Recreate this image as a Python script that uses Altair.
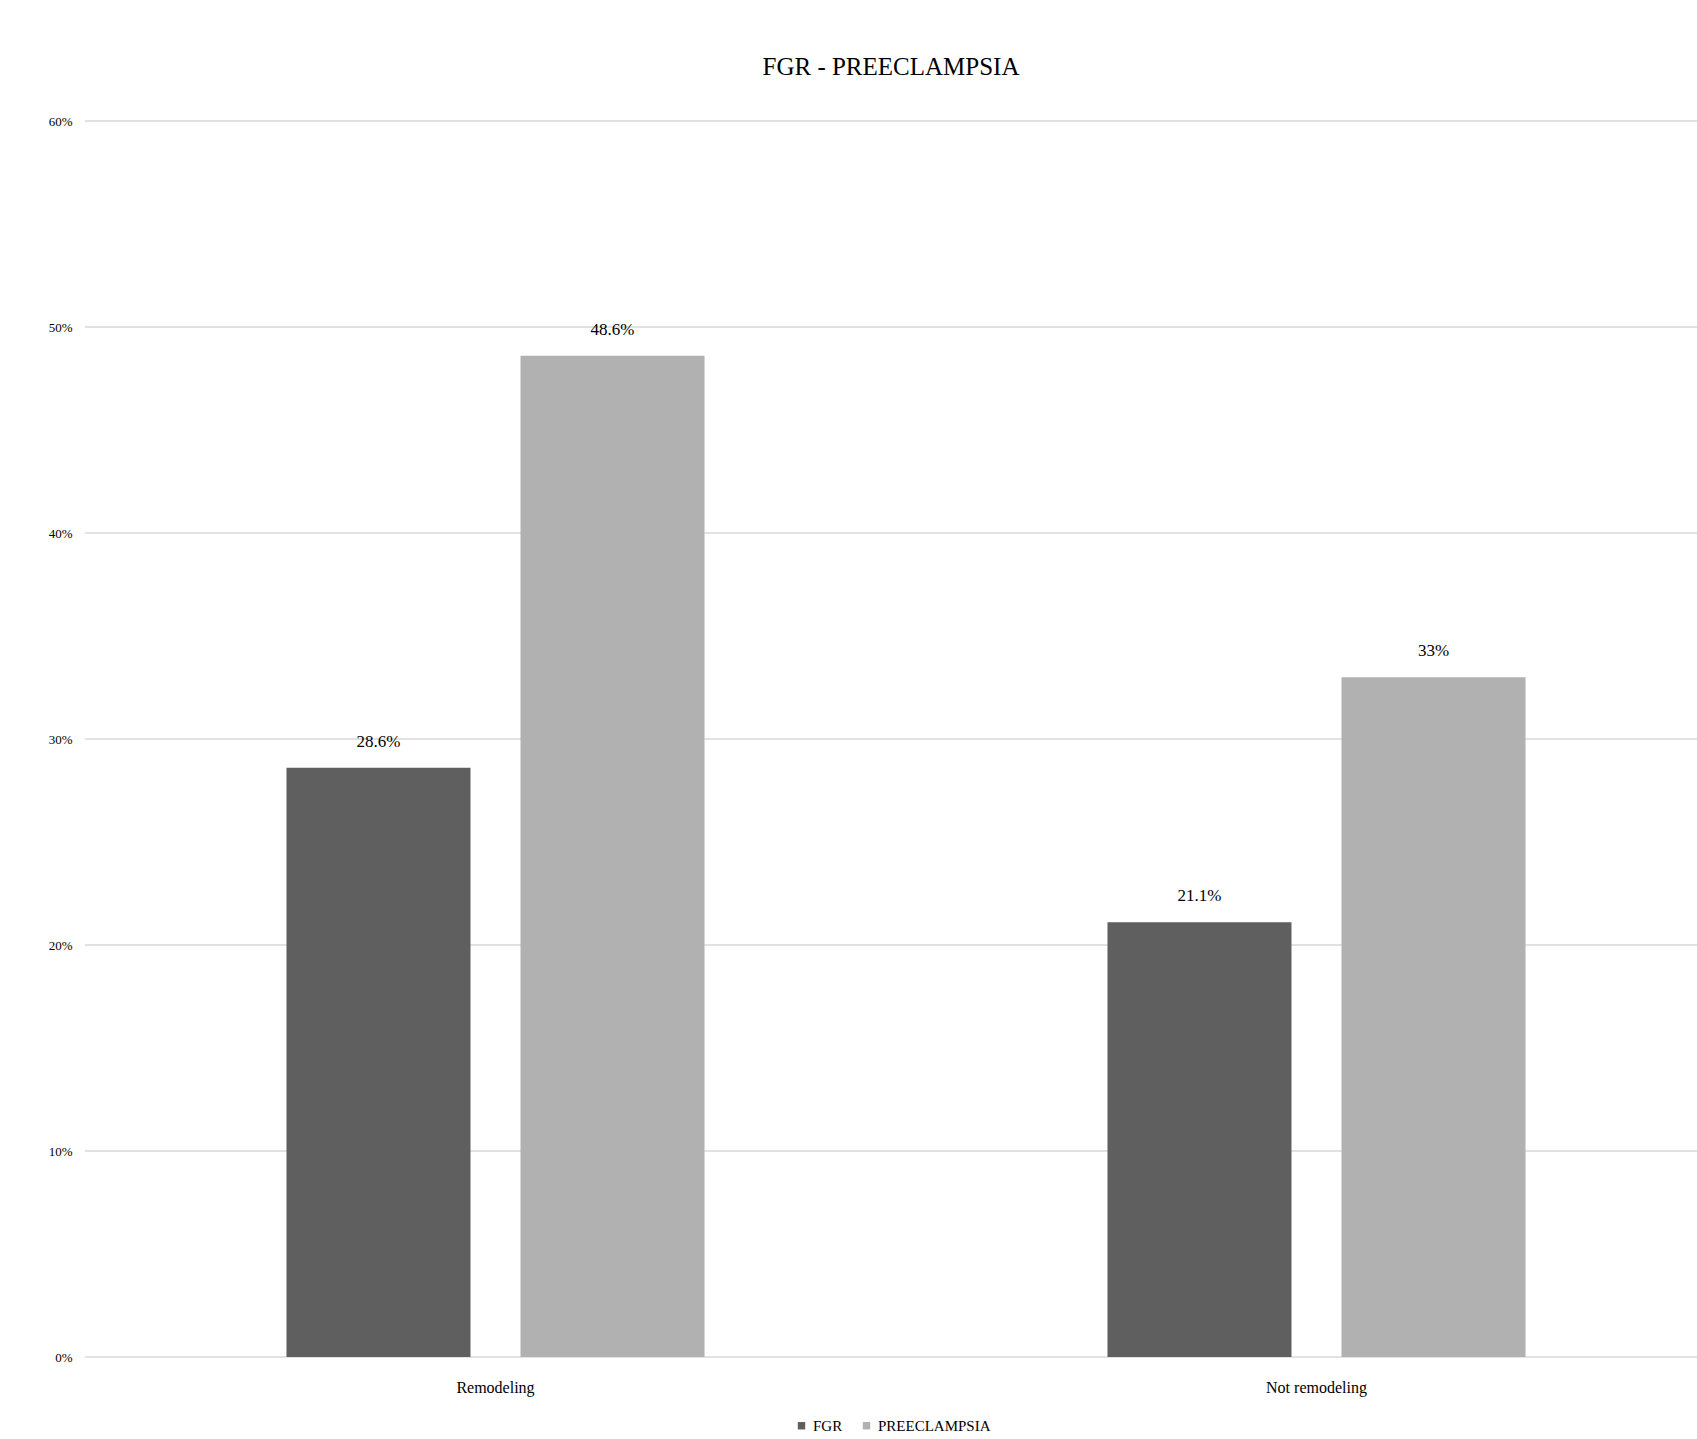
import altair as alt
import pandas as pd

categories = ["Remodeling", "Not remodeling"]
series = ["FGR", "PREECLAMPSIA"]
fgr_values = [0.286, 0.211]
pe_values = [0.486, 0.33]
y_ticks = [0, 0.1, 0.2, 0.3, 0.4, 0.5, 0.6]
colors = ["#5f5f5f", "#b1b1b1"]

rows = []
for i, c in enumerate(categories):
    rows.append({"category": c, "series": series[0], "value": fgr_values[i]})
    rows.append({"category": c, "series": series[1], "value": pe_values[i]})
df = pd.DataFrame(rows)
grid_df = pd.DataFrame({"tick": y_ticks})

FONT = "Liberation Serif"
PAD_L, PAD_T = 85, 121
W = 1697 - PAD_L
H = 1236
x_scale = alt.Scale(range=[0, 1642], paddingInner=0, paddingOuter=0)
y_scale = alt.Scale(domain=[0, 0.6])

grid = alt.Chart(grid_df).mark_rule(color="#d9d9d9", strokeWidth=1.5).encode(
    y=alt.Y("tick:Q", scale=y_scale,
            axis=alt.Axis(title=None, values=y_ticks, format=".0%", domain=False, ticks=False,
                          grid=False, labelPadding=13, labelFontSize=13, labelFont=FONT,
                          labelColor="#000000")),
    x=alt.value(0),
    x2=alt.value(W),
)

x_axis = alt.Axis(title=None, labelAngle=0, domain=False, ticks=False, grid=False,
                  labelPadding=22, labelFontSize=16, labelFont=FONT, labelColor="#000000")
xoff = alt.XOffset(
    "series:N", sort=series,
    scale=alt.Scale(paddingInner=0.2137, paddingOuter=0.861),
)

bars = alt.Chart(df).mark_bar().encode(
    x=alt.X("category:N", sort=categories, scale=x_scale, axis=x_axis),
    xOffset=xoff,
    y=alt.Y("value:Q", scale=y_scale),
    color=alt.Color(
        "series:N", sort=series,
        scale=alt.Scale(domain=series, range=colors),
        legend=alt.Legend(title=None, orient="none", direction="horizontal",
                          legendX=709, legendY=1297,
                          symbolType="square", symbolSize=55, labelFontSize=15,
                          labelOffset=4, columnPadding=16,
                          labelFont=FONT, labelColor="#000000"),
    ),
)

labels = alt.Chart(df).mark_text(
    baseline="middle", dy=-26, fontSize=17, font=FONT, color="#000000"
).encode(
    x=alt.X("category:N", sort=categories, scale=x_scale, axis=x_axis),
    xOffset=xoff,
    y=alt.Y("value:Q", scale=y_scale),
    text=alt.Text("value:Q", format=".1~%"),
)

chart = (grid + bars + labels).properties(
    width=W,
    height=H,
    title=alt.TitleParams("FGR - PREECLAMPSIA", font=FONT, fontSize=25,
                          fontWeight="normal", color="#000000", offset=35),
    autosize=alt.AutoSizeParams(type="none"),
    padding={"left": PAD_L, "top": PAD_T, "right": 0, "bottom": 1439 - PAD_T - H},
    background="#ffffff",
).configure_view(strokeWidth=0)

chart.save("out.html", embed_options={"renderer": "svg", "actions": False})
